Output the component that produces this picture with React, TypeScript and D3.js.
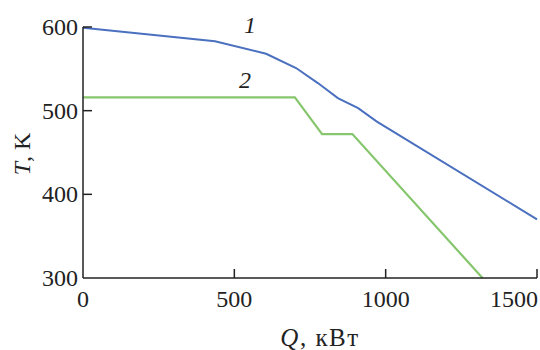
import React from "react";
import * as d3 from "d3";

const xTicks = [0, 500, 1000, 1500];
const yTicks = [300, 400, 500, 600];

const series1Q = [0, 436, 605, 704, 776, 842, 909, 971, 1500];
const series1T = [599, 583, 568, 551, 533, 515, 503, 487, 370];

const series2Q = [0, 700, 790, 890, 1320];
const series2T = [516, 516, 472, 472, 300];

const W = 540;
const H = 350;
const left = 83;
const right = 537;
const top = 27;
const bottom = 278;
const FONT = { fontFamily: "Liberation Serif" };

export default function App() {
  const x = d3.scaleLinear().domain([0, 1500]).range([left, right]);
  const y = d3.scaleLinear().domain([300, 600]).range([bottom, top]);
  const line = d3
    .line<[number, number]>()
    .x((d) => x(d[0]))
    .y((d) => y(d[1]));
  const s1 = series1Q.map((q, i) => [q, series1T[i]] as [number, number]);
  const s2 = series2Q.map((q, i) => [q, series2T[i]] as [number, number]);
  return (
    <svg
      width={W}
      height={H}
      style={{ position: "absolute", left: 0, top: 0, background: "#fff" }}
    >
      <path d={line(s2) || ""} fill="none" stroke="#86c66c" strokeWidth={2.2} />
      <path d={line(s1) || ""} fill="none" stroke="#4a70bf" strokeWidth={2} />
      <line x1={left} x2={left} y1={top} y2={bottom} stroke="#222" strokeWidth={1.5} />
      <line x1={left} x2={right} y1={bottom} y2={bottom} stroke="#222" strokeWidth={1.5} />
      {yTicks.map((t) => (
        <g key={"y" + t}>
          {t !== 300 && (
            <line x1={left} x2={left + 9} y1={y(t)} y2={y(t)} stroke="#222" strokeWidth={1.5} />
          )}
          <text x={left - 5} y={y(t) + 8} fontSize={24} textAnchor="end" fill="#222" style={FONT}>
            {t}
          </text>
        </g>
      ))}
      {xTicks.map((t) => (
        <g key={"x" + t}>
          {t !== 0 && (
            <line x1={x(t)} x2={x(t)} y1={bottom} y2={bottom - 9} stroke="#222" strokeWidth={1.5} />
          )}
          <text
            x={t === 1500 ? 538 : x(t)}
            y={307}
            fontSize={24}
            textAnchor={t === 1500 ? "end" : "middle"}
            fill="#222"
            style={FONT}
          >
            {t}
          </text>
        </g>
      ))}
      <text x={250} y={33} fontSize={24} fontStyle="italic" textAnchor="middle" fill="#222" style={FONT}>
        1
      </text>
      <text x={245} y={88} fontSize={24} fontStyle="italic" textAnchor="middle" fill="#222" style={FONT}>
        2
      </text>
      <text
        transform={`translate(30,154) rotate(-90)`}
        fontSize={24}
        textAnchor="middle"
        fill="#222"
        style={FONT}
      >
        <tspan fontStyle="italic">T</tspan>, K
      </text>
      <text
        x={320}
        y={346}
        fontSize={25}
        textAnchor="middle"
        fill="#222"
        style={{ ...FONT, letterSpacing: "1.5px" }}
      >
        <tspan fontStyle="italic">Q</tspan>, кВт
      </text>
    </svg>
  );
}
